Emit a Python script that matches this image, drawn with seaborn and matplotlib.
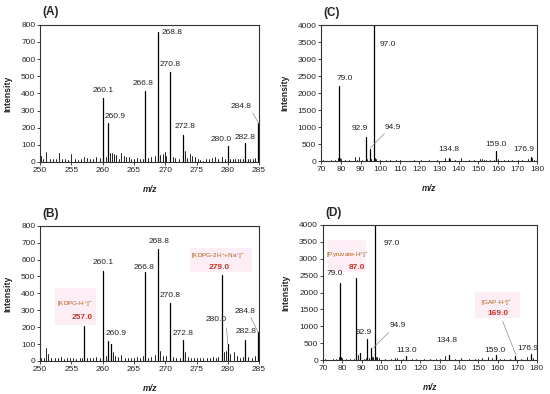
import numpy as np
import pandas as pd
import matplotlib
matplotlib.use("Agg")
import matplotlib.pyplot as plt
from matplotlib.patches import Rectangle
import seaborn as sns

# ---- data ----
# panel A
a_mz = [260.1, 260.9, 266.8, 268.8, 270.8, 272.8, 280.0, 282.8, 284.8]
a_int = [375, 225, 415, 760, 525, 160, 95, 110, 225]
a_noise_mz = [250.2, 250.5, 251.0, 251.5, 252.0, 252.5, 253.0, 253.5, 254.0, 254.5, 255.0, 255.5,
              256.0, 256.5, 257.0, 257.5, 258.0, 258.5, 259.0, 259.5, 260.5, 261.2, 261.5, 261.8,
              262.2, 262.6, 263.0, 263.4, 263.8, 264.2, 264.6, 265.0, 265.5, 266.0, 266.4, 267.3,
              267.8, 268.3, 269.2, 269.6, 269.9, 270.2, 271.2, 271.6, 272.2, 273.1, 273.5, 274.0,
              274.3, 274.7, 275.2, 275.6, 276.0, 276.5, 277.0, 277.5, 278.0, 278.5, 279.0, 279.5,
              280.4, 280.8, 281.2, 281.6, 282.0, 282.4, 283.2, 283.6, 284.0, 284.4]
a_noise_int = [35, 20, 60, 15, 20, 15, 55, 20, 15, 10, 45, 15,
               10, 20, 30, 25, 15, 20, 30, 25, 30, 55, 50, 45,
               40, 20, 55, 35, 30, 30, 15, 20, 25, 15, 20, 25,
               30, 35, 40, 45, 60, 35, 30, 25, 20, 65, 25, 45,
               35, 30, 15, 10, 5, 15, 20, 25, 30, 20, 30, 15,
               20, 15, 20, 15, 20, 15, 20, 15, 20, 25]

# panel B
b_mz = [257.0, 260.1, 260.9, 261.3, 266.8, 268.8, 270.8, 272.8, 279.0, 280.0, 282.8, 284.8]
b_int = [205, 535, 120, 100, 525, 665, 345, 125, 510, 100, 125, 170]
b_noise_mz = [250.2, 250.6, 251.0, 251.3, 251.8, 252.3, 252.8, 253.3, 253.8, 254.3, 254.8, 255.3,
              255.8, 256.3, 256.7, 257.5, 258.0, 258.5, 259.0, 259.5, 260.5, 261.7, 262.0, 262.5,
              263.0, 263.5, 264.0, 264.5, 265.0, 265.5, 266.0, 266.4, 267.3, 267.8, 268.3, 269.2,
              269.6, 270.1, 271.3, 271.8, 272.3, 273.1, 273.6, 274.1, 274.6, 275.1, 275.6, 276.1,
              276.6, 277.1, 277.6, 278.1, 278.5, 279.4, 279.7, 280.4, 281.0, 281.5, 282.0, 282.4,
              283.3, 283.8, 284.3]
b_noise_int = [20, 15, 75, 40, 15, 20, 15, 25, 10, 15, 20, 15,
               10, 15, 20, 15, 20, 15, 25, 20, 30, 50, 30, 25,
               35, 20, 15, 20, 15, 25, 20, 30, 20, 25, 35, 60,
               30, 30, 25, 20, 20, 50, 25, 20, 15, 20, 15, 20,
               15, 20, 25, 20, 25, 50, 60, 40, 55, 30, 20, 25,
               25, 20, 30]

# panel C
c_mz = [79.0, 92.9, 94.9, 97.0, 134.8, 159.0, 176.9]
c_int = [2200, 700, 350, 5000, 100, 300, 120]
c_noise_mz = [71, 73, 75, 77, 78.5, 79.5, 80.0, 82, 84, 87.0, 88.0, 89.0, 91, 93.5, 95.5, 97.5,
              98.0, 100, 103, 105, 108, 110, 114, 117, 121, 125, 129, 133.0, 135.5, 138, 141.0,
              145, 148, 151.0, 152.0, 153.0, 154.0, 156, 158.0, 160.0, 163.0, 165, 167.0, 170.0,
              172.0, 175.0, 177.5, 178.5]
c_noise_int = [20, 15, 20, 25, 80, 100, 60, 20, 25, 130, 40, 110, 30, 50, 60, 80,
               50, 30, 20, 20, 25, 20, 15, 25, 20, 20, 25, 90, 60, 30, 80,
               20, 25, 50, 55, 45, 30, 25, 40, 60, 30, 25, 40, 30,
               40, 50, 80, 40]

# panel D
d_mz = [79.0, 87.0, 89.0, 92.9, 94.9, 97.0, 113.0, 134.8, 159.0, 169.0, 176.9]
d_int = [2270, 2430, 220, 620, 350, 5000, 130, 150, 160, 110, 180]
d_noise_mz = [71, 73, 75, 77, 78.5, 79.5, 80.0, 82, 84, 86, 88.0, 91, 92.0, 93.5, 95.5, 96.0,
              97.5, 98.0, 99.0, 102, 105, 107.0, 108.0, 111, 116, 118.0, 122, 125.0, 128, 130.0,
              133.0, 135.0, 138, 141.0, 145.0, 148, 150.0, 152.0, 155.0, 157.0, 161, 163.0,
              166.0, 172.0, 175.0, 178.0]
d_noise_int = [20, 15, 20, 25, 80, 90, 60, 20, 25, 30, 150, 30, 50, 60, 100, 80,
               100, 80, 50, 30, 25, 60, 50, 25, 30, 30, 25, 30, 25, 40,
               130, 150, 30, 60, 30, 25, 40, 50, 90, 60, 25, 40,
               40, 40, 80, 50]

# peak labels: (text, x, y)
a_labels = [("260.1", 260.1, 415), ("260.9", 262.0, 263), ("266.8", 266.5, 455),
            ("268.8", 271.1, 753), ("270.8", 270.8, 566), ("272.8", 273.2, 204),
            ("280.0", 278.9, 128), ("282.8", 282.7, 142), ("284.8", 282.1, 321)]
b_labels = [("260.1", 260.1, 583), ("260.9", 262.2, 164), ("266.8", 266.6, 553),
            ("268.8", 269.0, 707), ("270.8", 270.8, 385), ("272.8", 272.9, 164),
            ("280.0", 278.2, 243), ("282.8", 282.9, 174), ("284.8", 282.7, 292)]
c_labels = [("97.0", 104.0, 3441), ("79.0", 82.2, 2441), ("92.9", 89.5, 970),
            ("94.9", 106.3, 1000), ("134.8", 134.8, 353), ("159.0", 159.0, 500),
            ("176.9", 173.0, 353)]
d_labels = [("97.0", 105.6, 3457), ("79.0", 76.2, 2578), ("92.9", 91.2, 820),
            ("94.9", 108.7, 1017), ("113.0", 113.3, 296), ("134.8", 133.6, 573),
            ("159.0", 158.4, 296), ("176.9", 175.6, 346)]

# ion assignments: (name, value, x_name, y_name, x_value, y_value, box x0, x1, y0, y1)
b_ions = [(r"[KDPG-H$^{+}$]$^{-}$", "257.0", 255.6, 332, 256.8, 257, 252.4, 258.9, 213, 431),
          (r"[KDPG-2H$^{+}$+Na$^{+}$]$^{-}$", "279.0", 278.5, 618, 278.6, 553, 274.0, 283.8, 529, 668)]
d_ions = [(r"[Pyruvate-H$^{+}$]$^{-}$", "87.0", 82.4, 3111, 87.3, 2740, 72.7, 92.0, 2598, 3556),
          (r"[GAP-H$^{+}$]$^{-}$", "169.0", 159.3, 1679, 159.8, 1383, 148.1, 171.3, 1254, 2025)]

# leader lines
a_leaders = [((284.0, 285.0), (286, 222))]
b_leaders = [((279.8, 280.0), (194, 99)), ((283.7, 284.85), (257, 170))]
c_leaders = [((102.2, 94.9), (815, 382))]
d_leaders = [((103.9, 95.9), (820, 365)), ((162.4, 169.3), (1156, 150))]

# ---- style ----
sns.set_theme(style="ticks")
plt.rcParams['font.family'] = ['Liberation Sans', 'DejaVu Sans']
plt.rcParams['mathtext.fontset'] = 'custom'
plt.rcParams['mathtext.rm'] = 'Liberation Sans'
fs = 6.0
ION_COL = '#B0621C'
VAL_COL = '#C0392B'
BOX_COL = '#FDEEF6'


def stems(ax, mz, inten, lw=0.9):
    n = len(mz)
    df = pd.DataFrame({
        'mz': np.repeat(mz, 2),
        'I': np.column_stack([np.zeros(n), inten]).ravel(),
        'pk': np.repeat(np.arange(n), 2),
    })
    sns.lineplot(data=df, x='mz', y='I', units='pk', estimator=None, sort=False,
                 color='black', lw=lw, ax=ax)


def panel(ax, tag, mz, inten, nmz, nint, labels, leaders, xlim, xticks, ylim, yticks, ions=()):
    for name, val, xn, yn, xv, yv, bx0, bx1, by0, by1 in ions:
        ax.add_patch(Rectangle((bx0, by0), bx1 - bx0, by1 - by0, facecolor=BOX_COL,
                               edgecolor='none', zorder=0))
    stems(ax, nmz, nint, lw=0.6)
    stems(ax, mz, inten, lw=0.9)
    for t, x, y in labels:
        ax.text(x, y, t, fontsize=fs, ha='center', va='center', color='#222222')
    for xs, ys in leaders:
        ax.plot(xs, ys, color='#8c8c8c', lw=0.5)
    for name, val, xn, yn, xv, yv, *_ in ions:
        ax.text(xn, yn, name, fontsize=4.6, ha='center', va='center', color=ION_COL)
        ax.text(xv, yv, val, fontsize=fs, ha='center', va='center', color=VAL_COL,
                fontweight='bold')
    ax.set_xlim(*xlim)
    ax.set_ylim(*ylim)
    ax.set_xticks(xticks)
    ax.set_yticks(yticks)
    ax.tick_params(labelsize=fs, length=2, width=0.6, pad=1.5, direction='out')
    for s in ax.spines.values():
        s.set_linewidth(0.8)
        s.set_color('#333333')
    ax.set_xlabel('m/z', fontsize=6.3, fontweight='bold', fontstyle='italic', labelpad=8)
    ax.set_ylabel('Intensity', fontsize=6.3, fontweight='bold', labelpad=6)
    ax.text(0.01, 1.09, tag, transform=ax.transAxes, fontsize=8.5, fontweight='bold',
            ha='left', va='center')


fig = plt.figure(figsize=(5.5, 3.94), dpi=100)
ax_a = fig.add_axes([0.073, 0.589, 0.398, 0.348])
ax_c = fig.add_axes([0.584, 0.591, 0.393, 0.345])
ax_b = fig.add_axes([0.073, 0.084, 0.398, 0.343])
ax_d = fig.add_axes([0.587, 0.086, 0.389, 0.343])

panel(ax_a, '(A)', a_mz, a_int, a_noise_mz, a_noise_int, a_labels, a_leaders,
      (250, 285), range(250, 286, 5), (0, 800), range(0, 801, 100))
panel(ax_b, '(B)', b_mz, b_int, b_noise_mz, b_noise_int, b_labels, b_leaders,
      (250, 285), range(250, 286, 5), (0, 800), range(0, 801, 100), ions=b_ions)
panel(ax_c, '(C)', c_mz, c_int, c_noise_mz, c_noise_int, c_labels, c_leaders,
      (70, 180), range(70, 181, 10), (0, 4000), range(0, 4001, 500))
panel(ax_d, '(D)', d_mz, d_int, d_noise_mz, d_noise_int, d_labels, d_leaders,
      (70, 180), range(70, 181, 10), (0, 4000), range(0, 4001, 500), ions=d_ions)

fig.savefig('out.png', dpi=100, facecolor='white')
